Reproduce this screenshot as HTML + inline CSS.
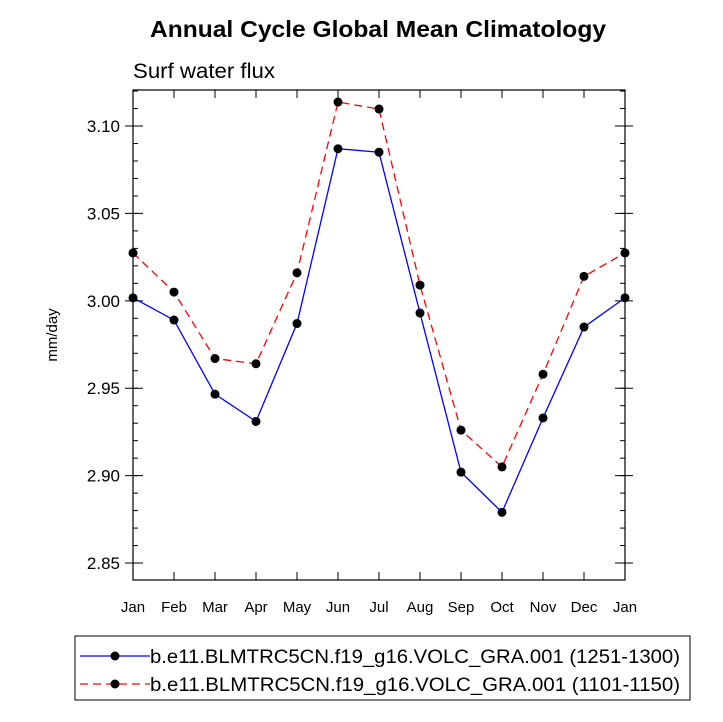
<!DOCTYPE html>
<html><head><meta charset="utf-8"><style>
body{margin:0;background:#fff;}
svg{display:block;font-family:"Liberation Sans",sans-serif;}
</style></head><body>
<svg id="chart" width="723" height="722">
<text x="150" y="37" textLength="456" lengthAdjust="spacingAndGlyphs" font-size="23" font-weight="bold">Annual Cycle Global Mean Climatology</text>
<text x="133" y="78" textLength="142" lengthAdjust="spacingAndGlyphs" font-size="21">Surf water flux</text>
<text transform="translate(57,335) rotate(-90)" text-anchor="middle" font-size="15">mm/day</text>
<g id="axes"></g>
<g id="series"></g>
<rect x="75" y="636" width="615" height="64" fill="none" stroke="#000" stroke-width="1"/>
<g>
<line x1="80" y1="656" x2="150" y2="656" stroke="#0000ff" stroke-width="1.3"/>
<circle cx="115" cy="656" r="4.5" fill="#000"/>
<text x="150" y="663" textLength="530" lengthAdjust="spacingAndGlyphs" font-size="19">b.e11.BLMTRC5CN.f19_g16.VOLC_GRA.001 (1251-1300)</text>
</g>
<g>
<line x1="80" y1="684" x2="150" y2="684" stroke="#ff0000" stroke-width="1.3" stroke-dasharray="8,5"/>
<circle cx="115" cy="684" r="4.5" fill="#000"/>
<text x="150" y="691" textLength="530" lengthAdjust="spacingAndGlyphs" font-size="19">b.e11.BLMTRC5CN.f19_g16.VOLC_GRA.001 (1101-1150)</text>
</g>
</svg>
<script>
const months=["Jan","Feb","Mar","Apr","May","Jun","Jul","Aug","Sep","Oct","Nov","Dec","Jan"];
const blueValues=[3.0017,2.989,2.9466,2.931,2.987,3.087,3.085,2.993,2.902,2.879,2.933,2.985,3.0017];
const redValues=[3.0274,3.005,2.967,2.964,3.016,3.1137,3.1097,3.009,2.926,2.905,2.958,3.014,3.0274];
const yTicks=[2.85,2.90,2.95,3.00,3.05,3.10];
const yTickLabels=["2.85","2.90","2.95","3.00","3.05","3.10"];
const L=133,R=625,T=90,B=580,ymin=2.8403,ymax=3.1206;
const xs=i=>L+(R-L)*i/(months.length-1);
const ys=v=>B-(v-ymin)/(ymax-ymin)*(B-T);
const NS="http://www.w3.org/2000/svg";
function mk(tag,attrs,parent){const e=document.createElementNS(NS,tag);for(const k in attrs)e.setAttribute(k,attrs[k]);parent.appendChild(e);return e;}
const ax=document.getElementById('axes');
const frame=mk('rect',{x:L,y:T,width:R-L,height:B-T,fill:'none',stroke:'#000','stroke-width':1.2},ax);


months.forEach((m,i)=>{
  const x=xs(i);
  mk('line',{x1:x,y1:B,x2:x,y2:B-8,stroke:'#000'},ax);
  mk('line',{x1:x,y1:T,x2:x,y2:T+8,stroke:'#000'},ax);
  const t=mk('text',{x:x,y:B+32,'text-anchor':'middle','font-size':15},ax);
  t.textContent=m;
  
  
});
for(let v=2.85;v<=3.12;v+=0.01){
  const y=ys(v);
  mk('line',{x1:L,y1:y,x2:L+5,y2:y,stroke:'#000'},ax);
  mk('line',{x1:R,y1:y,x2:R-5,y2:y,stroke:'#000'},ax);
}
yTicks.forEach((v,i)=>{
  const y=ys(v);
  mk('line',{x1:L-8,y1:y,x2:L+10,y2:y,stroke:'#000'},ax);
  mk('line',{x1:R+8,y1:y,x2:R-10,y2:y,stroke:'#000'},ax);
  const t=mk('text',{x:L-13,y:y+6,'text-anchor':'end','font-size':17},ax);
  t.textContent=yTickLabels[i];
  
  
});
const sg=document.getElementById('series');
function drawSeries(vals,color,dash,name){
  const g=mk('g',{},sg);
  
  
  const pts=vals.map((v,i)=>xs(i)+','+ys(v)).join(' ');
  const a={points:pts,fill:'none',stroke:color,'stroke-width':1.3};
  if(dash)a['stroke-dasharray']=dash;
  mk('polyline',a,g);
  vals.forEach((v,i)=>{
    const c=mk('circle',{cx:xs(i),cy:ys(v),r:4.5,fill:'#000'},g);
    
    
  });
}
drawSeries(blueValues,'#0000ff',null,'series-1251-1300');
drawSeries(redValues,'#ff0000','8,5','series-1101-1150');
</script>
</body></html>
